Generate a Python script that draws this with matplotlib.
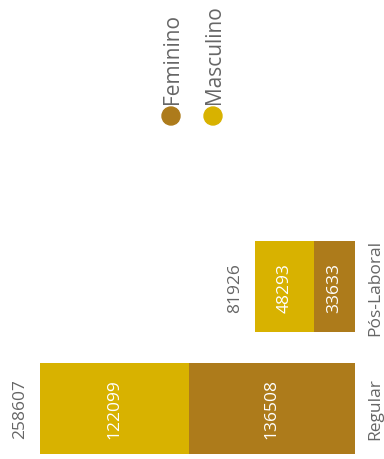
import matplotlib.pyplot as plt
from matplotlib.patches import Ellipse

plt.rcParams['font.family'] = ['Open Sans', 'DejaVu Sans']

categories = ['Regular', 'Pós-Laboral']
series_names = ['Feminino', 'Masculino']
feminino = [136508, 33633]
masculino = [122099, 48293]
totals = [f + m for f, m in zip(feminino, masculino)]

colors = ['#AD7B1B', '#D8B200']
grey = '#666666'

W, H = 384, 460
fig = plt.figure(figsize=(W / 100, H / 100), dpi=100)

# chart is drawn turned on its side: bars grow to the left, text reads upward
ax = fig.add_axes([40 / W, 2 / H, 315 / W, 243 / H])
ypos = list(range(len(categories)))

c1 = ax.barh(ypos, feminino, height=0.75, color=colors[0])
c2 = ax.barh(ypos, masculino, left=feminino, height=0.75, color=colors[1])

ax.bar_label(c1, label_type='center', rotation=90, color='white', fontsize=12.5)
ax.bar_label(c2, label_type='center', rotation=90, color='white', fontsize=12.5)

for y, t in zip(ypos, totals):
    ax.annotate(str(t), xy=(t, y), xytext=(-12, 0), textcoords='offset pixels',
                ha='right', va='center', rotation=90, color=grey, fontsize=12.5)

ax.set_xlim(max(totals), 0)
ax.set_ylim(-0.4, 1.6)
ax.yaxis.tick_right()
ax.set_yticks(ypos)
ax.set_yticklabels(categories, rotation=90, va='center', color=grey, fontsize=12.5)
ax.tick_params(axis='y', length=0, pad=9)
ax.set_xticks([])
for s in ax.spines.values():
    s.set_visible(False)

# legend, turned the same way
for i, (name, col) in enumerate(zip(series_names, colors)):
    x = (171 + 42 * i) / W
    fig.patches.append(Ellipse((x, 1 - 117 / H), 18 / W, 18 / H, color=col,
                               transform=fig.transFigure, figure=fig))
    fig.text(x + 1 / W, 1 - 104 / H, name, rotation=90, ha='center', va='bottom',
             color=grey, fontsize=15)

fig.savefig('out.png', dpi=100)
